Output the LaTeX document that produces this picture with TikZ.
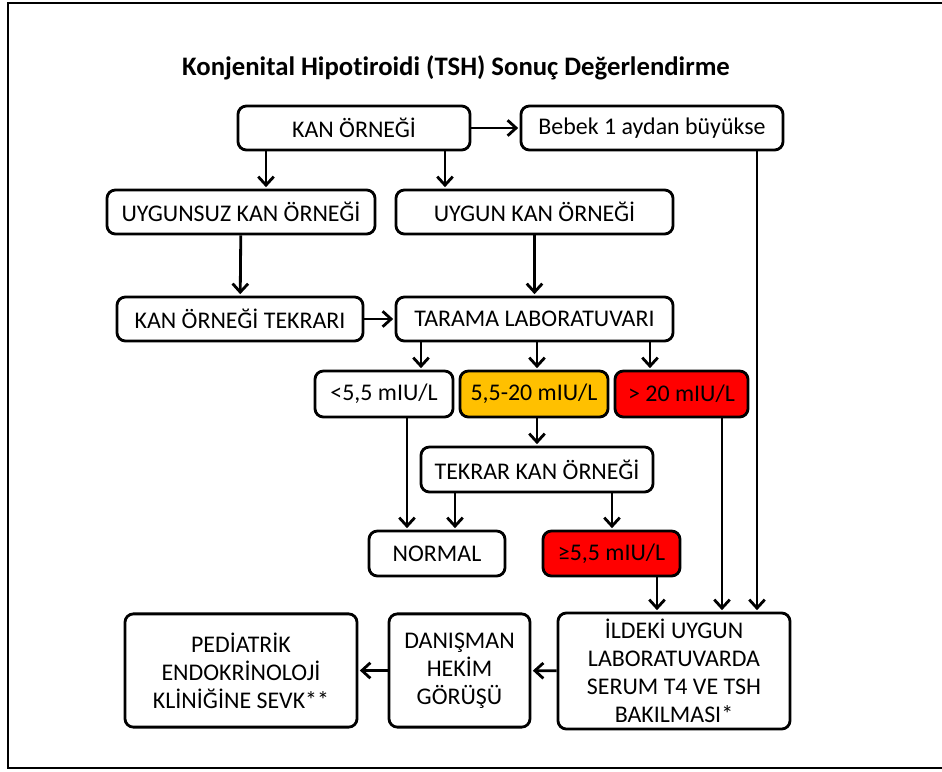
\documentclass[tikz,border=0pt]{standalone}
\usepackage{fontspec}
\setmainfont{Carlito}[Ligatures=NoCommon]
\usepackage{xcolor}
\usetikzlibrary{arrows.meta}
\definecolor{turuncu}{HTML}{FFC000}
\definecolor{kirmizi}{HTML}{FF0000}

\begin{document}
\begin{tikzpicture}[x=0.025cm, y=-0.025cm,%1 unit = 1 pixel
  kutu/.style={draw, line width=2pt, rounded corners=6pt, align=center, inner sep=0pt,
    minimum height=1.1cm, font=\fontsize{17}{20}\selectfont},
  ok/.style={line width=2pt, -{Straight Barb[length=6pt,width=11pt]}, shorten >=1pt}]
  \useasboundingbox (0,0) rectangle (942,771);
  \draw[line width=2pt] (942,3) -- (8,3) -- (8,768) -- (942,768);
  \node[font=\fontsize{19}{22}\selectfont\bfseries] (baslik) at (456,68) {Konjenital Hipotiroidi (TSH) Sonuç Değerlendirme};

  % ust kisim
  \node[kutu, minimum width=5.8cm] (kan) at (354,128) {KAN ÖRNEĞİ};
  \node[kutu, minimum width=6.55cm] (bebek) at (652,128) {Bebek 1 aydan büyükse};
  \node[kutu, minimum width=6.7cm] (uygunsuz) at (241,212) {UYGUNSUZ KAN ÖRNEĞİ};
  \node[kutu, minimum width=6.925cm] (uygun) at (534.5,212) {UYGUN KAN ÖRNEĞİ};
  \node[kutu, minimum width=6.15cm] (tekrari) at (240,319) {KAN ÖRNEĞİ TEKRARI};
  \node[kutu, minimum width=6.925cm] (tarama) at (534.5,319) {TARAMA LABORATUVARI};

  % TSH sonuclari
  \node[kutu, minimum width=3.45cm, minimum height=1.15cm] (dusuk) at (384,394) {<5,5 mIU/L};
  \node[kutu, fill=turuncu, minimum width=3.7cm, minimum height=1.15cm] (orta) at (534,394) {5,5-20 mIU/L};
  \node[kutu, fill=kirmizi, minimum width=3.325cm, minimum height=1.15cm] (yuksek) at (681.5,394) {> 20 mIU/L};
  \node[kutu, minimum width=5.8cm, minimum height=1.125cm] (tekrar) at (537,469.5) {TEKRAR KAN ÖRNEĞİ};
  \node[kutu, minimum width=3.4cm, minimum height=1.125cm] (normal) at (437,553.5) {NORMAL};
  \node[kutu, fill=kirmizi, minimum width=3.425cm, minimum height=1.125cm] (ikinci) at (611.5,553.5) {≥5,5 mIU/L};

  % alt kisim
  \node[kutu, minimum width=5.8cm, minimum height=2.83cm] (sevk) at (241,670.5) {PEDİATRİK\\ENDOKRİNOLOJİ\\KLİNİĞİNE SEVK**};
  \node[kutu, minimum width=3.525cm, minimum height=2.83cm] (hekim) at (459.5,670.5) {DANIŞMAN\\HEKİM\\GÖRÜŞÜ};
  \node[kutu, minimum width=5.8cm, minimum height=2.9cm] (ildeki) at (674,671) {İLDEKİ UYGUN\\LABORATUVARDA\\SERUM T4 VE TSH\\BAKILMASI*};

  % oklar
  \draw[ok] (kan) -- (bebek);
  \draw[ok] (266,0 |- kan.south) -- (266,0 |- uygunsuz.north);
  \draw[ok] (445,0 |- kan.south) -- (445,0 |- uygun.north);
  \draw[ok] (uygunsuz) -- (tekrari);
  \draw[ok] (uygun) -- (tarama);
  \draw[ok] (tekrari) -- (tarama);
  \draw[ok] (421,0 |- tarama.south) -- (421,0 |- dusuk.north);
  \draw[ok] (537,0 |- tarama.south) -- (537,0 |- orta.north);
  \draw[ok] (650,0 |- tarama.south) -- (650,0 |- yuksek.north);
  \draw[ok] (537,0 |- orta.south) -- (537,0 |- tekrar.north);
  \draw[ok] (407,0 |- dusuk.south) -- (407,0 |- normal.north);
  \draw[ok] (455,0 |- tekrar.south) -- (455,0 |- normal.north);
  \draw[ok] (612,0 |- tekrar.south) -- (612,0 |- ikinci.north);
  \draw[ok] (657,0 |- ikinci.south) -- (657,0 |- ildeki.north);
  \draw[ok] (722,0 |- yuksek.south) -- (722,0 |- ildeki.north);
  \draw[ok] (757,0 |- bebek.south) -- (757,0 |- ildeki.north);
  \draw[ok] (ildeki) -- (hekim);
  \draw[ok] (hekim) -- (sevk);
\end{tikzpicture}
\end{document}
